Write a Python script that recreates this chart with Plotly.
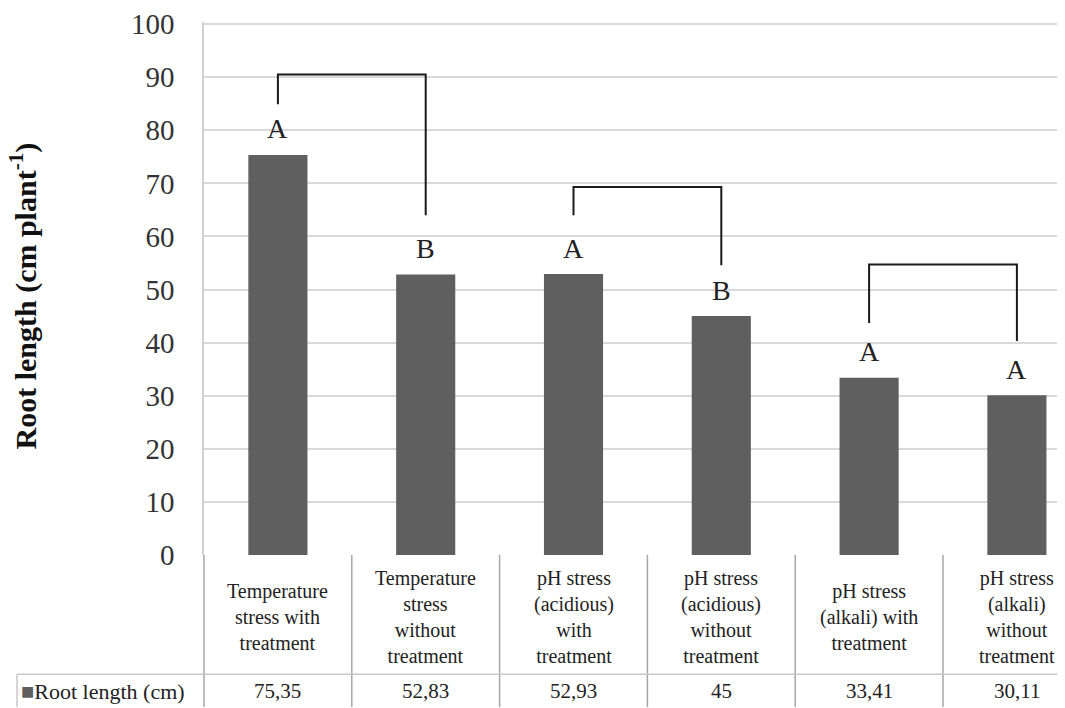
import plotly.graph_objects as go

categories = [
    "Temperature<br>stress with<br>treatment",
    "Temperature<br>stress<br>without<br>treatment",
    "pH stress<br>(acidious)<br>with<br>treatment",
    "pH stress<br>(acidious)<br>without<br>treatment",
    "pH stress<br>(alkali) with<br>treatment",
    "pH stress<br>(alkali)<br>without<br>treatment",
]
values = [75.35, 52.83, 52.93, 45, 33.41, 30.11]
value_labels = ["75,35", "52,83", "52,93", "45", "33,41", "30,11"]
letters = ["A", "B", "A", "B", "A", "A"]
# bracket: (left index, right index, top value, left end value, right end value)
brackets = [
    (0, 1, 90.5, 84.9, 64.0),
    (2, 3, 69.3, 64.0, 54.6),
    (4, 5, 54.7, 43.7, 40.3),
]
series_name = "Root length (cm)"
y_ticks = list(range(0, 101, 10))

OFF = 8                      # page body margin
SW, SH = 1065, 708           # screen size
W, H = SW - OFF, SH - OFF    # figure size
Y_MAX = 100.4
S_LEFT, S_BOTTOM = 204, 555
S_100 = 21
S_TOP = S_BOTTOM - (S_BOTTOM - S_100) * Y_MAX / 100.0
L = S_LEFT - OFF
T = S_TOP - OFF
B = H - (S_BOTTOM - OFF)
plot_w = W - L
plot_h = H - T - B
col_px = 147.8
x_end = -0.5 + plot_w / col_px

FONT = "Liberation Serif"


def py(spix):
    # screen pixel y -> paper y
    return (S_BOTTOM - spix) / plot_h


def px(spix):
    # screen pixel x -> paper x
    return (spix - S_LEFT) / plot_w


fig = go.Figure()
fig.add_trace(go.Bar(
    x=list(range(len(values))), y=values, width=0.40,
    marker=dict(color="#5f5f5f", line=dict(width=0)),
    name=series_name, showlegend=False,
))

shapes = []
annotations = []

# significance letters
for i, (v, lt) in enumerate(zip(values, letters)):
    annotations.append(dict(x=i, y=v, xref="x", yref="y", text=lt, showarrow=False,
                            yanchor="middle", yshift=26,
                            font=dict(family=FONT, size=28, color="#222222")))

# brackets
for li, ri, top, lb, rb in brackets:
    shapes.append(dict(type="path", xref="x", yref="y",
                       path=f"M {li},{lb} L {li},{top} L {ri},{top} L {ri},{rb}",
                       line=dict(color="#1a1a1a", width=2)))

# data table lines
tbl_color = "#a6a6a6"
for k in range(1, len(values)):
    xb = k - 0.5
    shapes.append(dict(type="line", xref="x", yref="paper", x0=xb, x1=xb,
                       y0=0, y1=py(SH), line=dict(color=tbl_color, width=1.5)))
shapes.append(dict(type="line", xref="paper", yref="paper", x0=0, x1=0,
                   y0=0, y1=py(SH), line=dict(color=tbl_color, width=1.5)))
shapes.append(dict(type="line", xref="paper", yref="paper", x0=px(17), x1=1,
                   y0=py(675), y1=py(675), line=dict(color="#c8c8c8", width=1.5)))
shapes.append(dict(type="line", xref="paper", yref="paper", x0=px(17), x1=px(17),
                   y0=py(675), y1=py(SH), line=dict(color="#c8c8c8", width=1.5)))

# category labels and values in table
for i, (c, vl) in enumerate(zip(categories, value_labels)):
    annotations.append(dict(x=i, y=py(617), xref="x", yref="paper", text=c, showarrow=False,
                            yanchor="middle", xanchor="center",
                            font=dict(family=FONT, size=20, color="#222222")))
    annotations.append(dict(x=i, y=py(692), xref="x", yref="paper", text=vl, showarrow=False,
                            yanchor="middle", xanchor="center",
                            font=dict(family=FONT, size=21, color="#222222")))

annotations.append(dict(x=px(19), y=py(692), xref="paper", yref="paper",
                        text="<span style='color:#5f5f5f'>■</span>" + series_name,
                        showarrow=False, xanchor="left", yanchor="middle",
                        font=dict(family=FONT, size=22, color="#222222")))

# y-axis title
annotations.append(dict(x=px(24), y=py(295), xref="paper", yref="paper",
                        text="<b>Root length (cm plant<sup>-1</sup>)</b>", textangle=-90,
                        showarrow=False, xanchor="center", yanchor="middle",
                        font=dict(family=FONT, size=30, color="#111111")))

fig.update_layout(
    width=W, height=H,
    margin=dict(l=L, r=0, t=T, b=B, pad=0),
    paper_bgcolor="white", plot_bgcolor="white",
    bargap=0.6,
    shapes=shapes, annotations=annotations,
    xaxis=dict(range=[-0.5, x_end], showticklabels=False, showgrid=False,
               zeroline=False, showline=False, ticks=""),
    yaxis=dict(range=[0, Y_MAX], tickvals=y_ticks, showgrid=True, gridcolor="#d9d9d9",
               gridwidth=1.5, zeroline=False, showline=True, linecolor="#d0d0d0",
               linewidth=1.5, ticks="", ticklabelstandoff=22, ticklabeloverflow="allow",
               tickfont=dict(family=FONT, size=29, color="#333333")),
)

fig.write_html("out.html")
